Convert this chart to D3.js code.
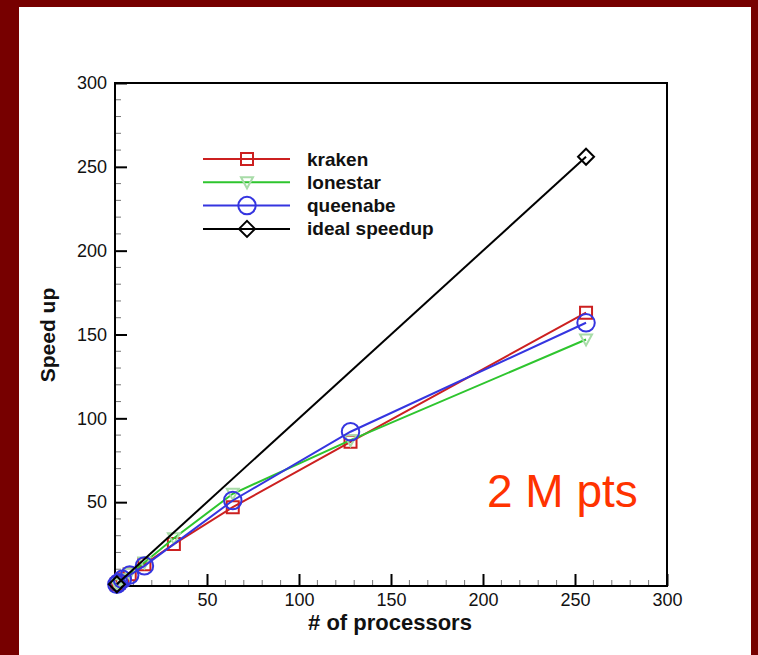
<!DOCTYPE html>
<html>
<head>
<meta charset="utf-8">
<script src="https://cdn.jsdelivr.net/npm/d3@7"></script>
<style>
  body { margin: 0; background: #770000; }
  svg { display: block; }
  text { font-family: "Liberation Sans", Arial, sans-serif; }
</style>
</head>
<body>
<div id="page-1"></div>
<script>
// data
var seriesNames = ["kraken", "lonestar", "queenabe", "ideal speedup"];

var krakenProcs = [1, 2, 4, 8, 16, 32, 64, 128, 256];
var krakenSpeed = [1, 2, 4, 7, 13, 25, 47, 86, 163];

var lonestarProcs = [1, 2, 4, 8, 16, 32, 64, 128, 256];
var lonestarSpeed = [1, 2, 4, 7.5, 14, 28.5, 55, 87, 147];

var queenabeProcs = [1, 2, 4, 8, 16, 64, 128, 256];
var queenabeSpeed = [1, 2, 4, 6.5, 12, 51, 92, 157];

var idealProcs = [1, 256];
var idealSpeed = [1, 256];

var xTicks = [50, 100, 150, 200, 250, 300];
var yTicks = [50, 100, 150, 200, 250, 300];

var fullWidth = 758;
var fullHeight = 655;

var margin = { left: 115, right: 91, top: 83, bottom: 69 };
var width = fullWidth - margin.left - margin.right;
var height = fullHeight - margin.top - margin.bottom;

var x = d3.scaleLinear().domain([0, 300]).range([0, width]);
var y = d3.scaleLinear().domain([0, 300]).range([height, 0]);

var series = [
  { name: seriesNames[0], procs: krakenProcs, speed: krakenSpeed, color: "#cc2020", mcolor: "#cc2020", marker: "square" },
  { name: seriesNames[1], procs: lonestarProcs, speed: lonestarSpeed, color: "#2ec52e", mcolor: "#a8dca8", marker: "triangle" },
  { name: seriesNames[2], procs: queenabeProcs, speed: queenabeSpeed, color: "#3535e0", mcolor: "#3535e0", marker: "circle" },
  { name: seriesNames[3], procs: idealProcs, speed: idealSpeed, color: "#000000", mcolor: "#000000", marker: "diamond" }
];

function markerPath(type) {
  if (type === "square") return "M-6,-6H6V6H-6Z";
  if (type === "triangle") return "M-6,-5H6L0,6Z";
  if (type === "circle") return d3.symbol(d3.symbolCircle, 240)();
  return "M0,-8L8,0L0,8L-8,0Z";
}

var svg = d3.select("#page-1").append("svg")
  .attr("width", fullWidth).attr("height", fullHeight);

// white slide panel
svg.append("rect").attr("x", 19).attr("y", 7).attr("width", 732).attr("height", 648).attr("fill", "#ffffff");

var chartGroup = svg.append("g").attr("transform", "translate(" + margin.left + "," + margin.top + ")");

// minor ticks
var minor = d3.range(10, 300, 10).filter(function (v) { return v % 50 !== 0; });
chartGroup.selectAll(".xminor").data(minor).enter().append("line")
  .attr("x1", d => x(d)).attr("x2", d => x(d))
  .attr("y1", height).attr("y2", height - 6)
  .attr("stroke", "#777").attr("stroke-width", 1);
chartGroup.selectAll(".yminor").data(minor).enter().append("line")
  .attr("y1", d => y(d)).attr("y2", d => y(d))
  .attr("x1", 0).attr("x2", 6)
  .attr("stroke", "#777").attr("stroke-width", 1);

// axes, ticks pointing inward
var xAxis = d3.axisBottom(x).tickValues(xTicks).tickSizeInner(-12).tickSizeOuter(0).tickPadding(7);
var yAxis = d3.axisLeft(y).tickValues(yTicks).tickSizeInner(-12).tickSizeOuter(0).tickPadding(8);

chartGroup.append("g").attr("class", "axis x")
  .attr("transform", "translate(0," + height + ")")
  .call(xAxis);
chartGroup.append("g").attr("class", "axis y")
  .call(yAxis);

chartGroup.selectAll(".axis .domain").remove();
chartGroup.selectAll(".axis line").attr("stroke", "#000").attr("stroke-width", 2);
chartGroup.selectAll(".axis text").attr("font-size", 18).attr("fill", "#111")
  .attr("font-family", "'Liberation Sans', Arial, sans-serif");

// frame
chartGroup.append("rect").attr("x", 0).attr("y", 0).attr("width", width).attr("height", height)
  .attr("fill", "none").attr("stroke", "#000").attr("stroke-width", 2);

// lines
var line = d3.line()
  .x(d => x(d[0]))
  .y(d => y(d[1]))
  .curve(d3.curveLinear);

series.forEach(function (s) {
  var pts = s.procs.map((p, i) => [p, s.speed[i]]);
  chartGroup.append("path")
    .datum(pts)
    .attr("d", line)
    .attr("fill", "none")
    .attr("stroke", s.color)
    .attr("stroke-width", 2);
  chartGroup.selectAll(null).data(pts).enter().append("path")
    .attr("d", markerPath(s.marker))
    .attr("transform", d => "translate(" + x(d[0]) + "," + y(d[1]) + ")")
    .attr("fill", "none")
    .attr("stroke", s.mcolor)
    .attr("stroke-width", 2);
});

// legend
var legend = svg.append("g").attr("transform", "translate(203,159)");
series.forEach(function (s, i) {
  var g = legend.append("g").attr("transform", "translate(0," + (i * 23.3) + ")");
  g.append("line").attr("x1", 0).attr("x2", 87).attr("y1", 0).attr("y2", 0)
    .attr("stroke", s.color).attr("stroke-width", 2);
  g.append("path").attr("d", markerPath(s.marker))
    .attr("transform", "translate(44,0)")
    .attr("fill", "none").attr("stroke", s.mcolor).attr("stroke-width", 2);
  g.append("text").attr("x", 104).attr("y", 6.5)
    .attr("font-size", 19).attr("font-weight", "bold").attr("fill", "#111")
    .text(s.name);
});

// axis titles
svg.append("text")
  .attr("x", 390).attr("y", 630)
  .attr("text-anchor", "middle")
  .attr("font-size", 22).attr("font-weight", "bold").attr("fill", "#111")
  .text("# of processors");

svg.append("text")
  .attr("transform", "translate(55,335) rotate(-90)")
  .attr("text-anchor", "middle")
  .attr("font-size", 21).attr("font-weight", "bold").attr("fill", "#111")
  .text("Speed up");

// annotation
svg.append("text")
  .attr("x", 487).attr("y", 507)
  .attr("font-size", 46).attr("fill", "#ff3300")
  .text("2 M pts");
</script>
</body>
</html>
